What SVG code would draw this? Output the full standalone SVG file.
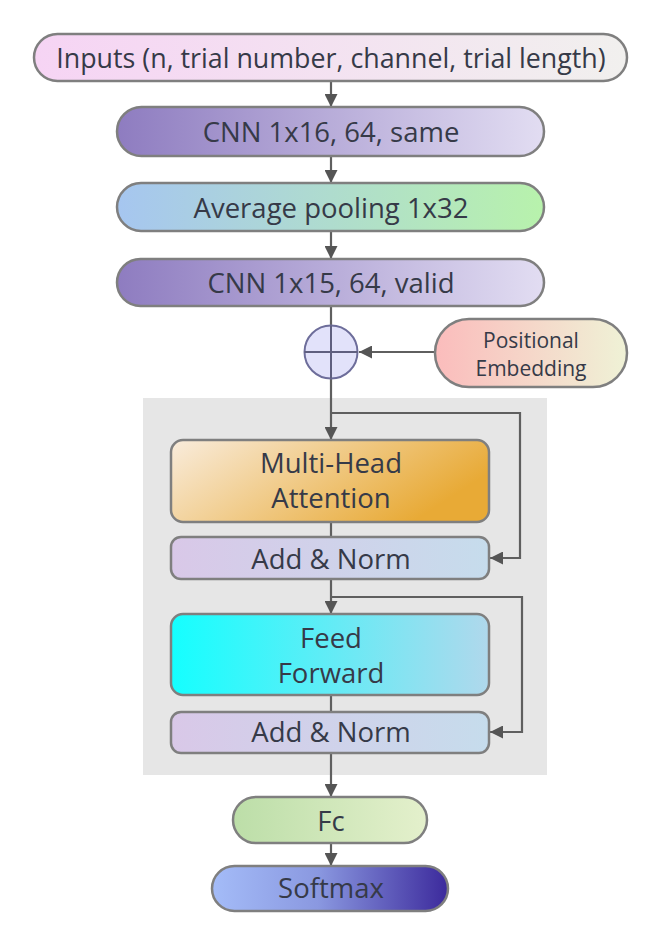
<svg xmlns="http://www.w3.org/2000/svg" width="659" height="937" viewBox="0 0 659 937">
<defs>
<style>
.box{stroke:#7f7f7f;stroke-width:2.5}
.t{font-family:"Open Sans","Noto Sans","DejaVu Sans",sans-serif;fill:#363a48;text-anchor:middle;font-size:27.5px}
.s{font-size:21px}
.c{fill:none;stroke:#5f5f5f;stroke-width:2.2}
</style>
<marker id="ah" viewBox="0 0 10 10" refX="10" refY="5" markerUnits="userSpaceOnUse" markerWidth="13" markerHeight="13" orient="auto">
<path d="M0,0 L10,5 L0,10 z" fill="#555"/>
</marker>
<linearGradient id="gIn" x1="0" x2="1"><stop offset="0" stop-color="#f6d4f4"/><stop offset="1" stop-color="#f1f0ee"/></linearGradient>
<linearGradient id="gCnn" x1="0" x2="1"><stop offset="0" stop-color="#8e7cc0"/><stop offset="1" stop-color="#e2ddf2"/></linearGradient>
<linearGradient id="gAvg" x1="0" x2="1"><stop offset="0" stop-color="#a6c6f0"/><stop offset="1" stop-color="#b8f2ac"/></linearGradient>
<linearGradient id="gPe" x1="0" x2="1"><stop offset="0" stop-color="#fbbcbc"/><stop offset="1" stop-color="#eff2d6"/></linearGradient>
<linearGradient id="gMha" x1="0" x2="1" y1="0" y2="0.4"><stop offset="0" stop-color="#f9ecdc"/><stop offset="1" stop-color="#e8aa36"/></linearGradient>
<linearGradient id="gAn" x1="0" x2="1"><stop offset="0" stop-color="#d9c8e8"/><stop offset="1" stop-color="#c6dcec"/></linearGradient>
<linearGradient id="gFf" x1="0" x2="1"><stop offset="0" stop-color="#14ffff"/><stop offset="1" stop-color="#b0d8ec"/></linearGradient>
<linearGradient id="gFc" x1="0" x2="1"><stop offset="0" stop-color="#bcdea8"/><stop offset="1" stop-color="#e4f0cc"/></linearGradient>
<linearGradient id="gSm" x1="0" x2="1"><stop offset="0" stop-color="#a4bcf8"/><stop offset="0.45" stop-color="#8a98e0"/><stop offset="1" stop-color="#3c2a9c"/></linearGradient>
</defs>
<rect width="659" height="937" fill="#fff"/>
<rect id="panel" x="143" y="398" width="404" height="377" fill="#e6e6e6"/>

<g id="connectors">
<path class="c" d="M331,81 L331,107" marker-end="url(#ah)"/>
<path class="c" d="M331,157 L331,183" marker-end="url(#ah)"/>
<path class="c" d="M331,231 L331,259" marker-end="url(#ah)"/>
<path class="c" d="M331,306 L331,326"/>
<path class="c" d="M435,352 L359,352" marker-end="url(#ah)"/>
<path class="c" d="M331,378 L331,440" marker-end="url(#ah)"/>
<path class="c" d="M331,413 L520,413 L520,558 L490,558" marker-end="url(#ah)"/>
<path class="c" d="M331,522 L331,537"/>
<path class="c" d="M331,579 L331,614" marker-end="url(#ah)"/>
<path class="c" d="M331,597 L522,597 L522,732 L490,732" marker-end="url(#ah)"/>
<path class="c" d="M331,695 L331,712"/>
<path class="c" d="M331,753 L331,797" marker-end="url(#ah)"/>
<path class="c" d="M331,843 L331,866" marker-end="url(#ah)"/>
</g>

<g id="inputs">
<rect class="box" x="34" y="34" width="593" height="47" rx="23.5" fill="url(#gIn)"/>
<text class="t" x="331" y="68" style="font-size:26.8px">Inputs (n, trial number, channel, trial length)</text>
</g>
<g id="cnn1">
<rect class="box" x="117" y="107" width="427" height="49" rx="24.5" fill="url(#gCnn)"/>
<text class="t" x="331" y="142">CNN 1x16, 64, same</text>
</g>
<g id="avgpool">
<rect class="box" x="117" y="183" width="427" height="48" rx="24" fill="url(#gAvg)"/>
<text class="t" x="331" y="218">Average pooling 1x32</text>
</g>
<g id="cnn2">
<rect class="box" x="117" y="259" width="427" height="47" rx="23.5" fill="url(#gCnn)"/>
<text class="t" x="331" y="293">CNN 1x15, 64, valid</text>
</g>
<g id="add">
<circle cx="331" cy="352" r="26.5" fill="#e2e2fa" stroke="#6d6d9a" stroke-width="2"/>
<path d="M304.5,352 H357.5 M331,325.5 V378.5" stroke="#5f5f7f" stroke-width="2" fill="none"/>
</g>
<g id="posemb">
<rect class="box" x="435" y="319" width="192" height="68" rx="34" fill="url(#gPe)"/>
<text class="t s" x="531" y="348">Positional</text>
<text class="t s" x="531" y="376">Embedding</text>
</g>
<g id="mha">
<rect class="box" x="171" y="440" width="318" height="82" rx="12" fill="url(#gMha)"/>
<text class="t" x="331" y="473">Multi-Head</text>
<text class="t" x="331" y="508">Attention</text>
</g>
<g id="addnorm1">
<rect class="box" x="171" y="537" width="318" height="42" rx="10" fill="url(#gAn)"/>
<text class="t" x="331" y="569">Add &amp; Norm</text>
</g>
<g id="ff">
<rect class="box" x="171" y="614" width="318" height="81" rx="12" fill="url(#gFf)"/>
<text class="t" x="331" y="648">Feed</text>
<text class="t" x="331" y="683">Forward</text>
</g>
<g id="addnorm2">
<rect class="box" x="171" y="712" width="318" height="41" rx="10" fill="url(#gAn)"/>
<text class="t" x="331" y="742">Add &amp; Norm</text>
</g>
<g id="fc">
<rect class="box" x="233" y="797" width="194" height="46" rx="23" fill="url(#gFc)"/>
<text class="t" x="331" y="831">Fc</text>
</g>
<g id="softmax">
<rect class="box" x="212" y="866" width="236" height="45" rx="22.5" fill="url(#gSm)"/>
<text class="t" x="331" y="898">Softmax</text>
</g>
</svg>
